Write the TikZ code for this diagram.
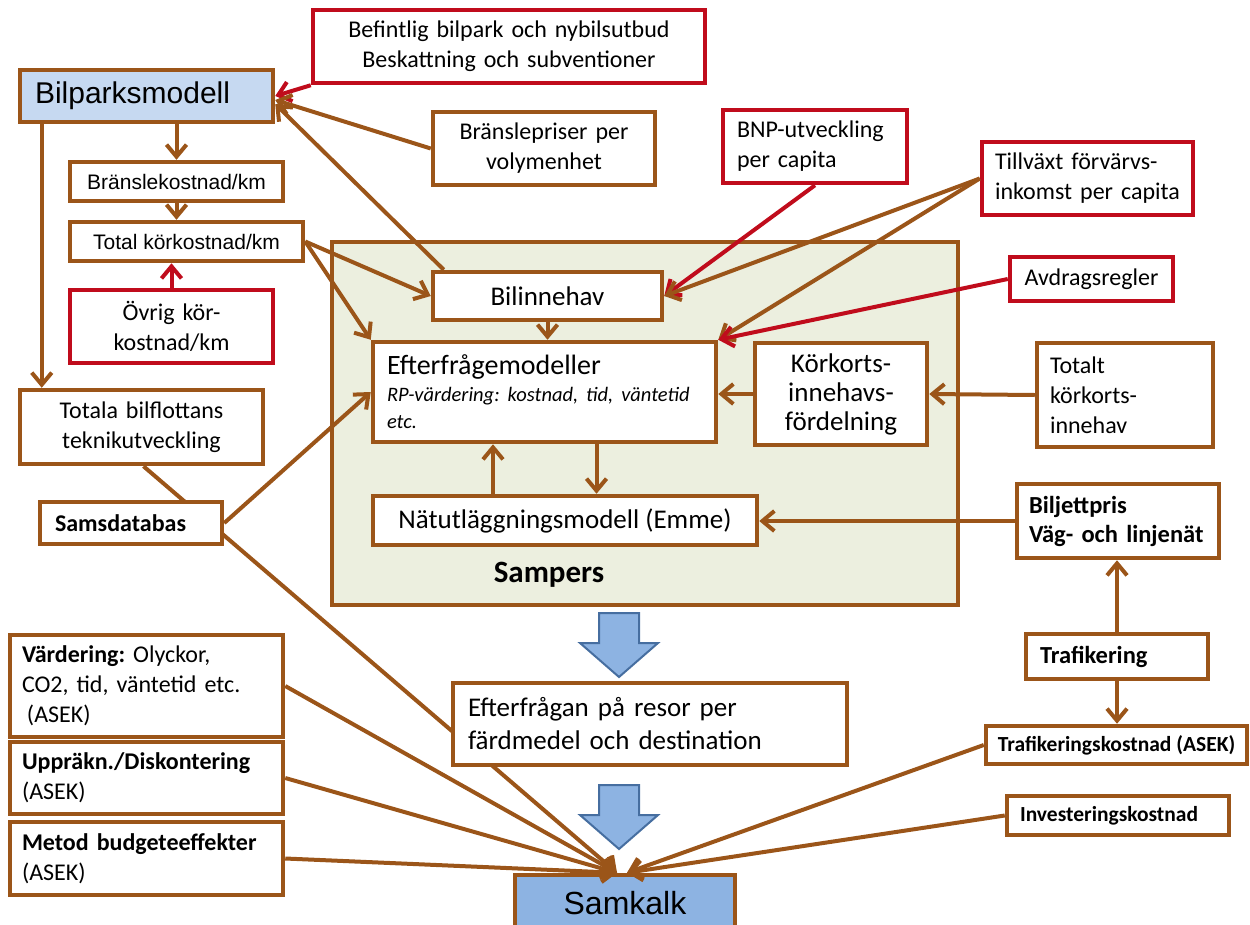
\documentclass[tikz,border=0pt]{standalone}
\usepackage{fontspec}
\usepackage{tikz}
\usetikzlibrary{arrows.meta,backgrounds,calc,positioning}
\setmainfont{Carlito}
\newfontfamily\arialfont{Liberation Sans}
\newcommand{\fsz}[2]{\fontsize{#1}{#2}\selectfont}
\definecolor{brn}{RGB}{155,85,25}
\definecolor{rd}{RGB}{192,12,28}
\definecolor{bilblue}{HTML}{C6D9F1}
\definecolor{kalkblue}{HTML}{8DB3E2}
\definecolor{pilblue}{RGB}{70,110,160}
\definecolor{sampgreen}{HTML}{ECEFDF}

\begin{document}
\frenchspacing
\begin{tikzpicture}[x=1pt,y=-1pt,
	box/.style={draw=brn,line width=4.5pt,fill=white,inner sep=0pt,font=\fsz{24}{30}},
	redbox/.style={box,draw=rd},
	lbox/.style={box,align=left,inner xsep=14pt},
	conn/.style={draw=brn,line width=4pt,-{Straight Barb[length=12pt,width=20pt]}},
	redconn/.style={conn,draw=rd},
	bigarrow/.style={draw=pilblue,line width=2pt,fill=kalkblue}]
	\useasboundingbox (0,0) rectangle (1250,924);
	% Sampers
	\node[box,fill=sampgreen,minimum width=626pt,minimum height=363pt] (sampers) at (645,423.5) {};
	\node[font=\fsz{31}{34}\bfseries] (samperslbl) at (549,575) {Sampers};
	% indata uppe
	\node[redbox,text width=392pt,align=center,minimum height=73pt] (befintlig) at (509,46.5) {Befintlig bilpark och nybilsutbud\\Beskattning och subventioner};
	\node[box,text width=222pt,align=center,minimum height=73pt] (branslepris) at (544,148.5) {Bränslepriser per\\volymenhet};
	\node[lbox,draw=rd,text width=156pt,minimum height=73pt] (bnp) at (815,146.5) {BNP-utveckling\\per capita};
	\node[lbox,draw=rd,inner xsep=13pt,text width=185pt,minimum height=73pt] (tillvaxt) at (1087.5,178.5) {Tillväxt förvärvs-\\inkomst per capita};
	\node[redbox,minimum width=163pt,minimum height=44pt] (avdrag) at (1091.5,279) {Avdragsregler};
	% bilpark
	\node[lbox,fill=bilblue,inner xsep=15pt,text width=223pt,minimum height=52pt,font=\arialfont\fsz{30}{34}] (bilpark) at (146.5,96) {Bilparksmodell};
	\node[box,minimum width=213pt,minimum height=39pt,font=\arialfont\fsz{21}{25}] (branslekm) at (176.5,181.5) {Bränslekostnad/km};
	\node[box,minimum width=233pt,minimum height=39pt,font=\arialfont\fsz{21}{25}] (totalkm) at (186.5,241.5) {Total körkostnad/km};
	\node[redbox,text width=203pt,align=center,minimum height=73pt] (ovrig) at (171.5,326.5) {Övrig kör-\\kostnad/km};
	\node[box,text width=243pt,align=center,minimum height=74pt] (totala) at (141.5,427) {Totala bilflottans\\teknikutveckling};
	\node[lbox,inner xsep=15pt,text width=152pt,minimum height=42pt,font=\fsz{24}{30}\bfseries] (sams) at (131,523) {Samsdatabas};
	% inne i Sampers
	\node[box,minimum width=229pt,minimum height=48pt,font=\fsz{27}{30}] (bilinnehav) at (547.5,296) {Bilinnehav};
	\node[lbox,text width=315pt,minimum height=100pt] (efter) at (544.5,392) {{\fsz{28}{32}Efterfrågemodeller\par}{\fsz{20.5}{27}\itshape RP-värdering: kostnad, tid, väntetid\\etc.\par}};
	\node[box,text width=172pt,align=center,minimum height=102pt,font=\fsz{27}{29}] (korkort) at (841,394) {Körkorts-\\innehavs-\\fördelning};
	\node[box,minimum width=384pt,minimum height=49pt,font=\fsz{27}{30}] (nat) at (565,520.5) {Nätutläggningsmodell (Emme)};
	% hoger sida
	\node[lbox,inner xsep=13pt,text width=150pt,minimum height=104pt] (totaltkk) at (1125,395) {Totalt\\körkorts-\\innehav};
	\node[lbox,inner xsep=12pt,text width=178pt,minimum height=74pt,font=\fsz{24.5}{29}\bfseries] (biljett) at (1118,521) {Biljettpris\\Väg- och linjenät};
	\node[lbox,text width=154pt,minimum height=45pt,font=\fsz{24.5}{28}\bfseries] (trafik) at (1117,656.5) {Trafikering};
	\node[box,minimum width=261pt,minimum height=38pt,font=\fsz{21.5}{25}\bfseries] (trafkost) at (1116.5,745) {Trafikeringskostnad (ASEK)};
	\node[lbox,inner xsep=13pt,text width=196pt,minimum height=39pt,font=\fsz{21.5}{25}\bfseries] (invest) at (1118,815.5) {Investeringskostnad};
	% ASEK nere till vanster
	\node[lbox,inner xsep=12pt,text width=249pt,minimum height=102pt] (vard) at (146.5,686) {\textbf{Värdering:} Olyckor,\\CO2, tid, väntetid etc.\\\hspace*{5pt}(ASEK)};
	\node[lbox,inner xsep=12pt,text width=249pt,minimum height=72pt] (uppr) at (146.5,778) {\textbf{Uppräkn./Diskontering}\\(ASEK)};
	\node[lbox,inner xsep=12pt,text width=249pt,minimum height=73pt] (metod) at (146.5,858.5) {\textbf{Metod budgeteeffekter}\\(ASEK)};
	% resultat
	\node[lbox,inner xsep=15pt,text width=364pt,minimum height=82pt,font=\fsz{27}{33}] (efterresor) at (650,724) {Efterfrågan på resor per\\färdmedel och destination};
	\node[box,fill=kalkblue,minimum width=220pt,minimum height=57pt,font=\arialfont\fsz{32}{36}] (samkalk) at (625,903.5) {Samkalk};
	\foreach \y in {613,785}
	\draw[bigarrow] (599,\y) -- (639,\y) -- (639,\y+30) -- (658,\y+30) -- (619,\y+64) -- (580,\y+30) -- (599,\y+30) -- cycle;
	% pilar
	\draw[conn] (branslekm.north |- bilpark.south) -- (branslekm.north);
	\draw[conn] (branslekm.south) -- (branslekm.south |- totalkm.north);
	\draw[redconn] (ovrig.north) -- (ovrig.north |- totalkm.south);
	\draw[conn] ([xshift=24pt]bilpark.south west) coordinate (bl) -- (bl |- totala.north);
	\draw[redconn] (befintlig.south west) -- (bilpark.east);
	\draw[conn] (branslepris.west) -- ([yshift=-4pt]bilpark.east);
	\draw[conn] ([xshift=13pt]bilinnehav.north west) -- ([yshift=-8pt]bilpark.east);
	\draw[conn] (totalkm.east) -- (bilinnehav.west);
	\draw[conn] (totalkm.east) -- (efter.north west);
	\draw[conn] (sams.east) -- (efter.west);
	\draw[redconn] (bnp.south) -- (bilinnehav.east);
	\draw[conn] (tillvaxt.west) -- (bilinnehav.east);
	\draw[conn] (tillvaxt.west) -- (efter.north east);
	\draw[redconn] (avdrag.west) -- (efter.north east);
	\draw[conn] (totaltkk.west) -- (korkort.east);
	\draw[conn] (korkort.west) -- (korkort.west -| efter.east);
	\draw[conn] (biljett.west) -- (biljett.west -| nat.east);
	\draw[conn] (bilinnehav.south) -- (bilinnehav.south |- efter.north);
	\draw[conn] ([xshift=52pt]efter.south) coordinate (e1) -- (e1 |- nat.north);
	\draw[conn] ([xshift=-72pt]nat.north) coordinate (n1) -- (n1 |- efter.south);
	\draw[conn] (trafik.north) -- (trafik.north |- biljett.south);
	\draw[conn] (trafik.south) -- (trafik.south |- trafkost.north);
	% till Samkalk
	\coordinate (skl) at ([xshift=-8pt]samkalk.north);
	\coordinate (skr) at ([xshift=2pt]samkalk.north);
	\foreach \src in {vard,uppr,metod}
	\draw[conn] (\src.east) -- (skl);
	\foreach \src in {trafkost,invest}
	\draw[conn] (\src.west) -- (skr);
	\begin{pgfonlayer}{background}
	\draw[conn] ([xshift=2pt]totala.south) -- (skl);
	\end{pgfonlayer}
\end{tikzpicture}
\end{document}
